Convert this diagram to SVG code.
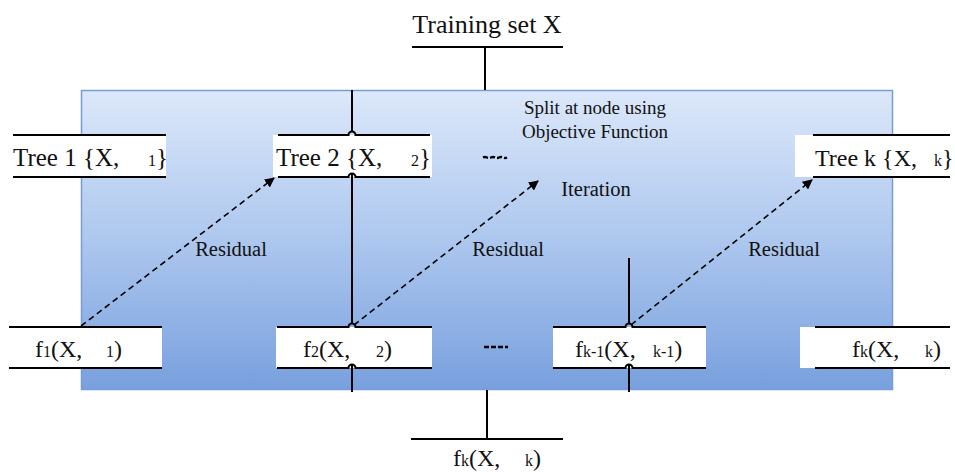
<svg xmlns="http://www.w3.org/2000/svg" width="955" height="472" viewBox="0 0 955 472">
  <defs>
    <linearGradient id="panelFill" x1="0" y1="0" x2="0" y2="1">
      <stop offset="0" stop-color="#dce8fa"/>
      <stop offset="0.5" stop-color="#adc7ee"/>
      <stop offset="1" stop-color="#78a0de"/>
    </linearGradient>
    <marker id="arrowHead" viewBox="0 0 10 10" refX="9" refY="5" markerWidth="10" markerHeight="10" markerUnits="userSpaceOnUse" orient="auto">
      <path d="M0,0 L10,5 L0,10 z" fill="#000"/>
    </marker>
    <style>
      .t { font-family: "Liberation Serif", "Times New Roman", serif; fill: #111; }
      .big { font-size: 26px; }
      .tree { font-size: 25px; }
      .fn { font-size: 24px; }
      .sub { font-size: 16px; }
      .note { font-size: 19px; }
      .note2 { font-size: 20.5px; }
      .rule { stroke: #000; stroke-width: 2; fill: none; }
      .box { fill: #fff; }
      .dash { stroke: #000; stroke-width: 1.6; stroke-dasharray: 6 4; fill: none; }
      .dots { stroke: #000; stroke-width: 2.5; stroke-dasharray: 5 2; fill: none; }
    </style>
  </defs>

  <!-- shaded panel behind the trees -->
  <rect id="panel" x="81.5" y="90.5" width="811" height="299" fill="url(#panelFill)" stroke="#7a9cd6" stroke-width="1.5"/>

  <!-- training set input -->
  <g id="training-set">
    <text class="t big" x="487" y="33" text-anchor="middle">Training set X</text>
    <line class="rule" x1="412" y1="47" x2="563" y2="47"/>
  </g>

  <!-- tree row -->
  <g id="tree-1">
    <rect class="box" x="8" y="135" width="158" height="42"/>
    <line class="rule" x1="13" y1="135" x2="166" y2="135"/>
    <line class="rule" x1="13" y1="177" x2="166" y2="177"/>
    <text class="t tree" x="13" y="166">Tree 1 {X,<tspan class="sub" x="148">1</tspan><tspan>}</tspan></text>
  </g>

  <g id="tree-2">
    <rect class="box" x="273" y="135" width="159" height="42"/>
    <path class="rule" d="M278,135 H348.5 A3.5,3.5 0 0 1 355.5,135 H430"/>
    <path class="rule" d="M278,177 H348.5 A3.5,3.5 0 0 1 355.5,177 H430"/>
    <text class="t tree" x="276" y="166">Tree 2 {X,<tspan class="sub" x="411">2</tspan><tspan>}</tspan></text>
  </g>

  <g id="tree-k">
    <rect class="box" x="795" y="135" width="160" height="42"/>
    <line class="rule" x1="813" y1="135" x2="950" y2="135"/>
    <line class="rule" x1="813" y1="177" x2="950" y2="177"/>
    <text class="t tree" x="815" y="166" style="font-size:24px">Tree k {X,<tspan class="sub" x="934">k</tspan><tspan>}</tspan></text>
  </g>

  <!-- function row -->
  <g id="f-1">
    <rect class="box" x="9" y="327" width="153" height="41"/>
    <line class="rule" x1="9" y1="327" x2="162" y2="327"/>
    <line class="rule" x1="9" y1="368" x2="162" y2="368"/>
    <text class="t fn" x="35" y="357">f<tspan class="sub">1</tspan><tspan>(X,</tspan><tspan class="sub" x="106">1</tspan><tspan>)</tspan></text>
  </g>

  <g id="f-2">
    <rect class="box" x="276" y="327" width="156" height="41"/>
    <path class="rule" d="M277,327 H348.5 A3.5,3.5 0 0 1 355.5,327 H432"/>
    <path class="rule" d="M277,368 H348.5 A3.5,3.5 0 0 1 355.5,368 H432"/>
    <text class="t fn" x="303" y="357">f<tspan class="sub">2</tspan><tspan>(X,</tspan><tspan class="sub" x="376">2</tspan><tspan>)</tspan></text>
  </g>

  <g id="f-k-1">
    <rect class="box" x="553" y="327" width="153" height="41"/>
    <path class="rule" d="M553,327 H625.5 A3.5,3.5 0 0 1 632.5,327 H706"/>
    <path class="rule" d="M553,368 H625.5 A3.5,3.5 0 0 1 632.5,368 H706"/>
    <text class="t fn" x="575" y="357">f<tspan class="sub">k-1</tspan><tspan>(X,</tspan><tspan class="sub" x="653">k-1</tspan><tspan>)</tspan></text>
  </g>

  <g id="f-k">
    <rect class="box" x="800" y="327" width="155" height="41"/>
    <line class="rule" x1="815" y1="327" x2="950" y2="327"/>
    <line class="rule" x1="815" y1="368" x2="950" y2="368"/>
    <text class="t fn" x="852" y="357">f<tspan class="sub">k</tspan><tspan>(X,</tspan><tspan class="sub" x="925">k</tspan><tspan>)</tspan></text>
  </g>

  <!-- combined output -->
  <g id="output">
    <line class="rule" x1="411" y1="439" x2="563" y2="439"/>
    <text class="t fn" x="453" y="466">f<tspan class="sub">k</tspan><tspan>(X,</tspan><tspan class="sub" x="525">k</tspan><tspan>)</tspan></text>
  </g>

  <!-- annotations -->
  <g id="notes">
    <text class="t note" x="595" y="114" text-anchor="middle">Split at node using</text>
    <text class="t note" x="595" y="138" text-anchor="middle">Objective Function</text>
    <text class="t note2" x="596" y="196" text-anchor="middle">Iteration</text>
    <text class="t note2" x="231" y="256" text-anchor="middle">Residual</text>
    <text class="t note2" x="508" y="256" text-anchor="middle">Residual</text>
    <text class="t note2" x="784" y="256" text-anchor="middle">Residual</text>
    <path class="dots" d="M483,157.5 q2,-1 4,0 t4,0 t4,0 t4,0 t4,0 t4,0"/>
    <line class="dots" x1="484" y1="347" x2="508" y2="347"/>
  </g>

  <!-- connectors -->
  <g id="connectors">
    <line class="rule" x1="485" y1="47" x2="485" y2="90"/>
    <line class="rule" x1="352" y1="90" x2="352" y2="131.5"/>
    <line class="rule" x1="352" y1="173.5" x2="352" y2="323.5"/>
    <line class="rule" x1="352" y1="364.5" x2="352" y2="392"/>
    <line class="rule" x1="629" y1="258" x2="629" y2="323.5"/>
    <line class="rule" x1="629" y1="364.5" x2="629" y2="392"/>
    <line class="rule" x1="487" y1="390" x2="487" y2="439"/>
    <line class="dash" x1="81" y1="326" x2="274" y2="178" marker-end="url(#arrowHead)"/>
    <line class="dash" x1="354" y1="325" x2="538" y2="181" marker-end="url(#arrowHead)"/>
    <line class="dash" x1="631" y1="325" x2="812" y2="180" marker-end="url(#arrowHead)"/>
  </g>
</svg>
